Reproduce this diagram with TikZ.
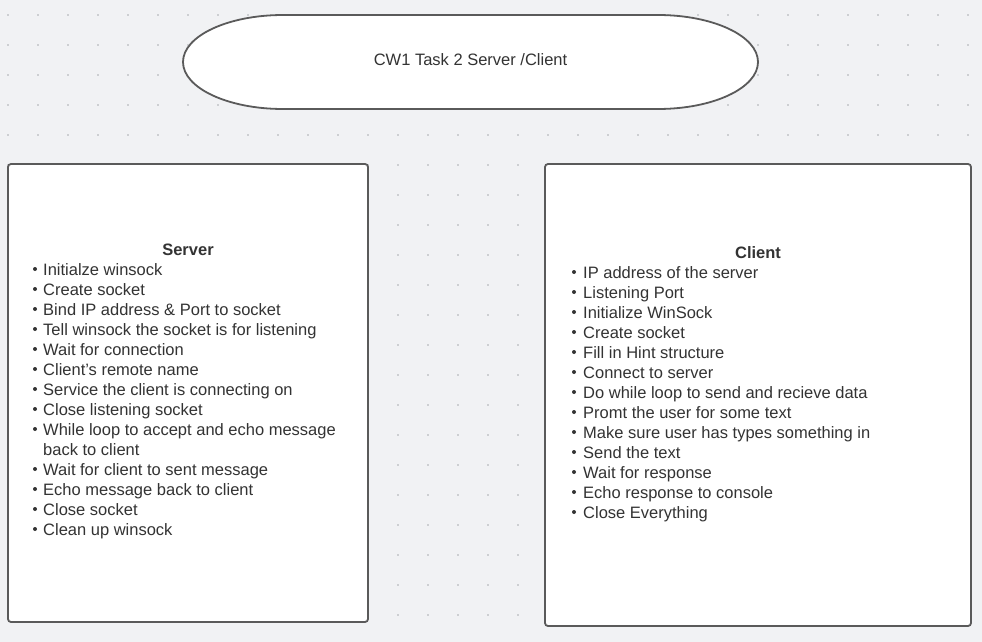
\documentclass[tikz,border=0pt]{standalone}
\usepackage{fontspec}
\setmainfont{Liberation Sans}
\definecolor{paper}{HTML}{F1F2F4}
\definecolor{griddot}{HTML}{A9ACB1}
\definecolor{edge}{HTML}{5A5A5A}
\definecolor{ink}{HTML}{333333}
\begin{document}
\begin{tikzpicture}[x=1pt, y=-1pt,
    panel/.style={draw=edge, line width=1.8pt, fill=white, rounded corners=3pt, inner sep=0pt},
    head/.style={anchor=base, inner sep=0pt, text=ink, font=\fontsize{16.5}{20}\selectfont\bfseries},
    entry/.style={anchor=base west, inner sep=0pt, text=ink, font=\fontsize{16.5}{20}\selectfont}]
        \fill[paper] (0,0) rectangle (982,642);
        \useasboundingbox (0,0) rectangle (982,642);
        
        % dotted canvas
        \foreach \i in {0,...,32}
            \foreach \j in {0,...,20}
                \fill[griddot] (8+30*\i,15+30*\j) circle (0.8pt);
        
        % title
        \draw[draw=edge, line width=1.8pt, fill=white] (283,15) -- (658,15)
            .. controls (713.2,15) and (758,36) .. (758,62)
            .. controls (758,88) and (713.2,109) .. (658,109) -- (283,109)
            .. controls (227.8,109) and (183,88) .. (183,62)
            .. controls (183,36) and (227.8,15) .. (283,15) -- cycle;
        \node[text=ink, font=\fontsize{16.5}{20}\selectfont] (title) at (470.5,60) {CW1 Task 2 Server /Client};
        
        % server
        \node[panel, minimum width=360pt, minimum height=458pt] (server) at (188,393) {};
        \node[head] (srvhead) at (188,255) {Server};
        \foreach \txt [count=\k] in {Initialze winsock, Create socket, Bind IP address \& Port to socket,
                Tell winsock the socket is for listening, Wait for connection, Client's remote name,
                Service the client is connecting on, Close listening socket,
                While loop to accept and echo message} {
            \node[entry] (srv\k) at (43,255+20*\k) {\txt};
            \fill[ink] (35,249+20*\k) circle (2pt);
        }
        \node[entry] (srvwrap) at (43,455) {back to client};
        \foreach \txt [count=\k] in {Wait for client to sent message, Echo message back to client,
                Close socket, Clean up winsock} {
            \node[entry] (srvend\k) at (43,455+20*\k) {\txt};
            \fill[ink] (35,449+20*\k) circle (2pt);
        }
        
        % client
        \node[panel, minimum width=426pt, minimum height=462pt] (client) at (758,395) {};
        \node[head] (clihead) at (758,258) {Client};
        \foreach \txt [count=\k] in {IP address of the server, Listening Port, Initialize WinSock,
                Create socket, Fill in Hint structure, Connect to server,
                Do while loop to send and recieve data, Promt the user for some text,
                Make sure user has types something in, Send the text, Wait for response,
                Echo response to console, Close Everything} {
            \node[entry] (cli\k) at (583,258+20*\k) {\txt};
            \fill[ink] (574,252+20*\k) circle (2pt);
        }
    \end{tikzpicture}
\end{document}
